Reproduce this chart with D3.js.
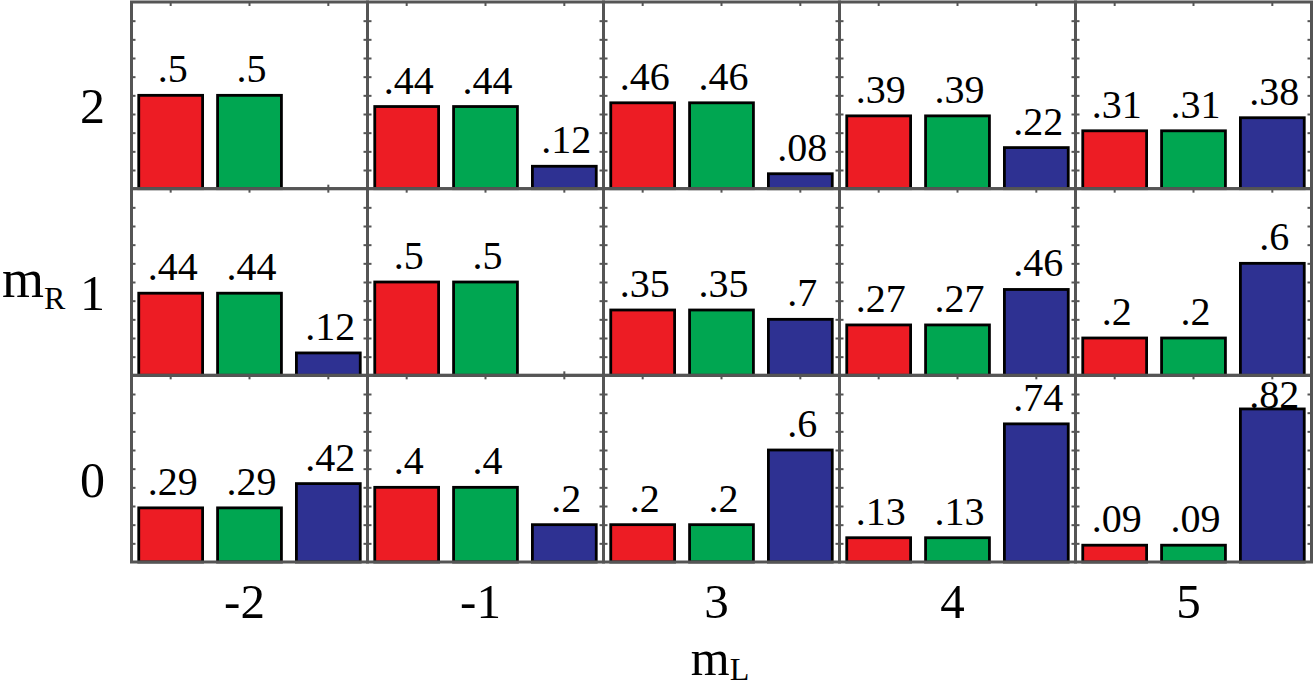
<!DOCTYPE html>
<html>
<head>
<meta charset="utf-8">
<script src="https://cdn.jsdelivr.net/npm/d3@7.9.0/dist/d3.min.js"></script>
<style>
  html, body { margin: 0; padding: 0; background: #fff; }
  svg { display: block; font-family: "Liberation Serif", "Times New Roman", serif; }
  .tick line { stroke: #555; stroke-width: 2; }
</style>
</head>
<body>
<svg id="chart" width="1314" height="697"></svg>
<script>
/* ---------------- DATA ---------------- */

const mLValues = ["-2", "-1", "3", "4", "5"];
const mRValues = ["2", "1", "0"];
const seriesNames = ["red", "green", "blue"];
const seriesColors = ["#ed1c24", "#00a651", "#2e3192"];

// one entry per panel, rows top->bottom (mR = 2, 1, 0), columns left->right
const redValues = [
  0.50, 0.44, 0.46, 0.39, 0.31,
  0.44, 0.50, 0.35, 0.27, 0.20,
  0.29, 0.40, 0.20, 0.13, 0.09
];
const greenValues = [
  0.50, 0.44, 0.46, 0.39, 0.31,
  0.44, 0.50, 0.35, 0.27, 0.20,
  0.29, 0.40, 0.20, 0.13, 0.09
];
const blueValues = [
  null, 0.12, 0.08, 0.22, 0.38,
  0.12, null, 0.30, 0.46, 0.60,
  0.42, 0.20, 0.60, 0.74, 0.82
];
// labels as printed in the figure
const redLabels = [
  ".5", ".44", ".46", ".39", ".31",
  ".44", ".5", ".35", ".27", ".2",
  ".29", ".4", ".2", ".13", ".09"
];
const greenLabels = redLabels;
const blueLabels = [
  "", ".12", ".08", ".22", ".38",
  ".12", "", ".7", ".46", ".6",
  ".42", ".2", ".6", ".74", ".82"
];

/* ---------------- LAYOUT ---------------- */

const svg = d3.select("#chart");

const gridLeft = 131.5, gridRight = 1311.5, gridTop = 2, gridBottom = 562;

const colScale = d3.scaleBand().domain(mLValues).range([gridLeft, gridRight]);
const rowScale = d3.scaleBand().domain(mRValues).range([gridTop, gridBottom]);

const panelW = colScale.bandwidth();
const panelH = rowScale.bandwidth();

const xScale = d3.scaleBand()
  .domain(seriesNames)
  .range([0, panelW])
  .paddingInner(0.19)
  .paddingOuter(0.092);

const yScale = d3.scaleLinear().domain([0, 1]).range([panelH, 0]);

const panels = [];
mRValues.forEach((r, ri) => {
  mLValues.forEach((l, ci) => {
    const i = ri * mLValues.length + ci;
    panels.push({
      mR: r, mL: l,
      bars: [
        { s: "red", v: redValues[i], label: redLabels[i] },
        { s: "green", v: greenValues[i], label: greenLabels[i] },
        { s: "blue", v: blueValues[i], label: blueLabels[i] }
      ]
    });
  });
});

const color = d3.scaleOrdinal().domain(seriesNames).range(seriesColors);

/* ---------------- PANELS ---------------- */

const panelG = svg.selectAll("g.panel")
  .data(panels)
  .join("g")
  .attr("class", "panel")
  .attr("transform", d => `translate(${colScale(d.mL)},${rowScale(d.mR)})`);

const yTicks = d3.range(1, 10).map(i => i / 10);

panelG.each(function () {
  const g = d3.select(this);
  g.append("g").call(d3.axisLeft(yScale).tickValues(yTicks).tickSize(-4).tickFormat(""));
  g.append("g").attr("transform", `translate(${panelW},0)`)
    .call(d3.axisRight(yScale).tickValues(yTicks).tickSize(-4).tickFormat(""));
  g.append("g").call(d3.axisTop(xScale).tickSize(-4).tickFormat(""));
  g.append("g").attr("transform", `translate(0,${panelH})`)
    .call(d3.axisBottom(xScale).tickSize(-4).tickFormat(""));
  g.selectAll(".domain").remove();
});

panelG.selectAll("rect.bar")
  .data(d => d.bars.filter(b => b.v != null))
  .join("rect")
  .attr("class", "bar")
  .attr("x", d => xScale(d.s))
  .attr("y", d => yScale(d.v))
  .attr("width", xScale.bandwidth())
  .attr("height", d => yScale(0) - yScale(d.v))
  .attr("fill", d => color(d.s))
  .attr("stroke", "#000")
  .attr("stroke-width", 2.8);

panelG.append("rect")
  .attr("width", panelW)
  .attr("height", panelH)
  .attr("fill", "none")
  .attr("stroke", "#555")
  .attr("stroke-width", 3);

panelG.selectAll("text.val")
  .data(d => d.bars.filter(b => b.label))
  .join("text")
  .attr("class", "val")
  .attr("x", d => xScale(d.s) + xScale.bandwidth() / 2 + 2)
  .attr("y", d => Math.max(yScale(d.v) - 13, 33))
  .attr("text-anchor", "middle")
  .attr("font-size", 40)
  .attr("fill", "#000")
  .text(d => d.label);

/* ---------------- AXIS LABELS ---------------- */

svg.append("g")
  .selectAll("text")
  .data(mLValues)
  .join("text")
  .attr("x", d => colScale(d) + panelW / 2 - 5)
  .attr("y", 618)
  .attr("text-anchor", "middle")
  .attr("font-size", 49)
  .text(d => d);

svg.append("g")
  .selectAll("text")
  .data(mRValues)
  .join("text")
  .attr("x", 105)
  .attr("y", d => rowScale(d) + panelH / 2 + 28)
  .attr("text-anchor", "end")
  .attr("font-size", 50)
  .text(d => d);

const mL = svg.append("text")
  .attr("x", 720)
  .attr("y", 675)
  .attr("text-anchor", "middle")
  .attr("font-size", 50);
mL.append("tspan").text("m");
mL.append("tspan").attr("font-size", 32).attr("dy", 5).text("L");

const mR = svg.append("text")
  .attr("x", 2)
  .attr("y", 297)
  .attr("font-size", 54);
mR.append("tspan").text("m");
mR.append("tspan").attr("font-size", 32).attr("dy", 12).text("R");
</script>
</body>
</html>
